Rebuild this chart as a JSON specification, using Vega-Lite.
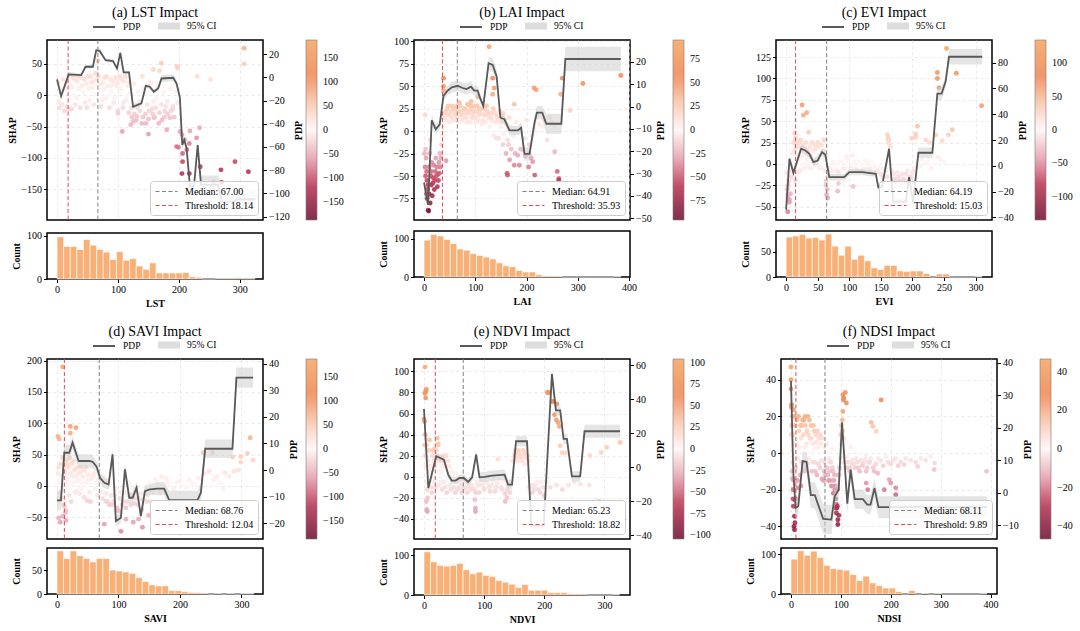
{
"$schema":"https://vega.github.io/schema/vega-lite/v6.json",
"padding":{"left":7,"top":5,"right":5,"bottom":5},
"spacing":14,
"datasets":{
"scatter_lst":[{"value":2,"shap":20},{"value":3,"shap":-10},{"value":4,"shap":-20},{"value":6,"shap":5},{"value":8,"shap":-15},{"value":10,"shap":25},{"value":12,"shap":-25},{"value":14,"shap":10},{"value":16,"shap":-18},{"value":18,"shap":30},{"value":20,"shap":-5},{"value":22,"shap":15},{"value":24,"shap":-22},{"value":26,"shap":28},{"value":28,"shap":0},{"value":30,"shap":-15},{"value":33,"shap":22},{"value":36,"shap":10},{"value":38,"shap":-20},{"value":40,"shap":28},{"value":43,"shap":5},{"value":46,"shap":-12},{"value":48,"shap":18},{"value":50,"shap":30},{"value":53,"shap":-8},{"value":56,"shap":20},{"value":58,"shap":12},{"value":60,"shap":-15},{"value":63,"shap":35},{"value":65,"shap":25},{"value":67,"shap":55},{"value":70,"shap":8},{"value":72,"shap":-18},{"value":75,"shap":20},{"value":78,"shap":28},{"value":80,"shap":-5},{"value":83,"shap":15},{"value":86,"shap":-20},{"value":88,"shap":25},{"value":90,"shap":5},{"value":93,"shap":-12},{"value":96,"shap":28},{"value":98,"shap":15},{"value":100,"shap":-25},{"value":103,"shap":30},{"value":105,"shap":10},{"value":108,"shap":-20},{"value":110,"shap":22},{"value":113,"shap":-8},{"value":116,"shap":15},{"value":118,"shap":-28},{"value":120,"shap":5},{"value":123,"shap":-35},{"value":126,"shap":18},{"value":128,"shap":-15},{"value":130,"shap":-40},{"value":133,"shap":5},{"value":136,"shap":-25},{"value":139,"shap":-45},{"value":142,"shap":10},{"value":145,"shap":-30},{"value":148,"shap":-15},{"value":150,"shap":-38},{"value":153,"shap":20},{"value":156,"shap":-22},{"value":158,"shap":-10},{"value":160,"shap":-35},{"value":163,"shap":-5},{"value":166,"shap":15},{"value":168,"shap":-28},{"value":172,"shap":-40},{"value":175,"shap":5},{"value":178,"shap":-18},{"value":182,"shap":-30},{"value":186,"shap":10},{"value":190,"shap":-22},{"value":195,"shap":5},{"value":198,"shap":-12},{"value":158,"shap":41},{"value":171,"shap":51},{"value":168,"shap":39},{"value":197,"shap":46},{"value":198,"shap":43},{"value":140,"shap":30},{"value":230,"shap":30},{"value":252,"shap":25},{"value":307,"shap":75},{"value":307,"shap":50},{"value":100,"shap":-29},{"value":121,"shap":-47},{"value":150,"shap":-62},{"value":107,"shap":-58},{"value":180,"shap":-55},{"value":159,"shap":-36},{"value":177,"shap":-26},{"value":190,"shap":-18},{"value":185,"shap":-36},{"value":202,"shap":-58},{"value":205,"shap":-63},{"value":209,"shap":-71},{"value":218,"shap":-57},{"value":217,"shap":-77},{"value":196,"shap":-82},{"value":199,"shap":-83},{"value":213,"shap":-87},{"value":206,"shap":-93},{"value":206,"shap":-106},{"value":205,"shap":-125},{"value":217,"shap":-125},{"value":229,"shap":-68},{"value":234,"shap":-52},{"value":235,"shap":-114},{"value":257,"shap":-140},{"value":270,"shap":-139},{"value":269,"shap":-119},{"value":292,"shap":-106},{"value":314,"shap":-122},{"value":125,"shap":-42},{"value":131,"shap":-34},{"value":5,"shap":10},{"value":9,"shap":0},{"value":15,"shap":20},{"value":19,"shap":-22},{"value":25,"shap":12},{"value":29,"shap":25},{"value":32,"shap":-5},{"value":35,"shap":30},{"value":41,"shap":15},{"value":45,"shap":25},{"value":49,"shap":-20},{"value":52,"shap":10},{"value":55,"shap":30},{"value":59,"shap":22},{"value":62,"shap":0},{"value":68,"shap":30},{"value":71,"shap":18},{"value":74,"shap":-8},{"value":77,"shap":10},{"value":81,"shap":30},{"value":85,"shap":0},{"value":89,"shap":15},{"value":92,"shap":22},{"value":95,"shap":-5},{"value":99,"shap":20},{"value":102,"shap":5},{"value":106,"shap":25},{"value":109,"shap":-12},{"value":112,"shap":30},{"value":115,"shap":0},{"value":119,"shap":20},{"value":122,"shap":-20},{"value":127,"shap":-30},{"value":132,"shap":-20},{"value":135,"shap":-10},{"value":141,"shap":-35},{"value":146,"shap":-45},{"value":151,"shap":-25},{"value":157,"shap":-30},{"value":162,"shap":-20},{"value":167,"shap":-45},{"value":171,"shap":-15},{"value":176,"shap":-35},{"value":181,"shap":-10},{"value":187,"shap":-25},{"value":192,"shap":-35}],
"pdp_lst":[{"value":0,"pdp":-1.7,"lo":-3.7,"hi":0.3},{"value":6.6,"pdp":-16.1,"lo":-18.6,"hi":-13.6},{"value":19.2,"pdp":2.6,"lo":0.6,"hi":4.6},{"value":39.6,"pdp":2.0,"lo":0.5,"hi":3.5},{"value":46.7,"pdp":9.2,"lo":7.7,"hi":10.7},{"value":58.8,"pdp":9.2,"lo":7.7,"hi":10.7},{"value":64.3,"pdp":23.5,"lo":21.5,"hi":25.5},{"value":69.8,"pdp":23.0,"lo":21,"hi":25},{"value":79.7,"pdp":14.9,"lo":13.4,"hi":16.4},{"value":91.8,"pdp":14.1,"lo":12.6,"hi":15.6},{"value":98.4,"pdp":7.8,"lo":6.3,"hi":9.3},{"value":103.8,"pdp":21.2,"lo":19.2,"hi":23.2},{"value":109.3,"pdp":4.3,"lo":2.8,"hi":5.8},{"value":118.1,"pdp":4.3,"lo":2.8,"hi":5.8},{"value":124.7,"pdp":-25.3,"lo":-27.3,"hi":-23.3},{"value":138.5,"pdp":-22.4,"lo":-24.4,"hi":-20.4},{"value":145.6,"pdp":-7.2,"lo":-9.2,"hi":-5.2},{"value":152.2,"pdp":-8.0,"lo":-10,"hi":-6},{"value":158.8,"pdp":-12.3,"lo":-14.3,"hi":-10.3},{"value":165.9,"pdp":-9.5,"lo":-11.5,"hi":-7.5},{"value":171.4,"pdp":-0.9,"lo":-3.9,"hi":2.1},{"value":190.7,"pdp":-0.3,"lo":-3.3,"hi":2.7},{"value":196.2,"pdp":-5.2,"lo":-8.2,"hi":-2.2},{"value":201.6,"pdp":-17.5,"lo":-19.5,"hi":-15.5},{"value":205.5,"pdp":-58.3,"lo":-61.3,"hi":-55.3},{"value":208.8,"pdp":-54,"lo":-57,"hi":-51},{"value":212.6,"pdp":-61.1,"lo":-64.1,"hi":-58.1},{"value":218.1,"pdp":-94.2,"lo":-97.2,"hi":-91.2},{"value":224.7,"pdp":-94.2,"lo":-97.2,"hi":-91.2},{"value":230.8,"pdp":-58.3,"lo":-61.3,"hi":-55.3},{"value":236.3,"pdp":-92.7,"lo":-100.7,"hi":-84.7},{"value":264.8,"pdp":-92.7,"lo":-100.7,"hi":-84.7},{"value":270.3,"pdp":-107.1,"lo":-115.1,"hi":-99.1},{"value":289.6,"pdp":-107.1,"lo":-115.1,"hi":-99.1},{"value":295.1,"pdp":-105.1,"lo":-113.1,"hi":-97.1},{"value":325.3,"pdp":-105.1,"lo":-113.1,"hi":-97.1}],
"hist_lst":[{"bin_start":0,"bin_end":10.83,"count":97},{"bin_start":10.83,"bin_end":21.67,"count":75},{"bin_start":21.67,"bin_end":32.5,"count":75},{"bin_start":32.5,"bin_end":43.33,"count":68},{"bin_start":43.33,"bin_end":54.17,"count":91},{"bin_start":54.17,"bin_end":65,"count":78},{"bin_start":65,"bin_end":75.83,"count":68},{"bin_start":75.83,"bin_end":86.67,"count":62},{"bin_start":86.67,"bin_end":97.5,"count":45},{"bin_start":97.5,"bin_end":108.33,"count":63},{"bin_start":108.33,"bin_end":119.17,"count":43},{"bin_start":119.17,"bin_end":130,"count":47},{"bin_start":130,"bin_end":140.83,"count":30},{"bin_start":140.83,"bin_end":151.67,"count":22},{"bin_start":151.67,"bin_end":162.5,"count":37},{"bin_start":162.5,"bin_end":173.33,"count":14},{"bin_start":173.33,"bin_end":184.17,"count":14},{"bin_start":184.17,"bin_end":195,"count":14},{"bin_start":195,"bin_end":205.83,"count":14},{"bin_start":205.83,"bin_end":216.67,"count":15},{"bin_start":216.67,"bin_end":227.5,"count":5},{"bin_start":227.5,"bin_end":238.33,"count":4},{"bin_start":238.33,"bin_end":249.17,"count":0},{"bin_start":249.17,"bin_end":260,"count":0},{"bin_start":260,"bin_end":270.83,"count":1},{"bin_start":270.83,"bin_end":281.67,"count":1},{"bin_start":281.67,"bin_end":292.5,"count":1},{"bin_start":292.5,"bin_end":303.33,"count":3},{"bin_start":303.33,"bin_end":314.17,"count":1},{"bin_start":314.17,"bin_end":325,"count":1}],
"scatter_lai":[{"value":2,"shap":18},{"value":3,"shap":-20},{"value":4,"shap":-30},{"value":5,"shap":-45},{"value":6,"shap":-55},{"value":7,"shap":-65},{"value":8,"shap":-88},{"value":9,"shap":-89},{"value":10,"shap":-40},{"value":11,"shap":-25},{"value":12,"shap":-10},{"value":13,"shap":-50},{"value":14,"shap":-60},{"value":15,"shap":-35},{"value":16,"shap":-72},{"value":18,"shap":-52},{"value":20,"shap":-65},{"value":22,"shap":-45},{"value":24,"shap":-50},{"value":26,"shap":-62},{"value":28,"shap":-55},{"value":30,"shap":-47},{"value":32,"shap":-40},{"value":34,"shap":-15},{"value":36,"shap":-5},{"value":38,"shap":5},{"value":40,"shap":15},{"value":42,"shap":22},{"value":45,"shap":25},{"value":48,"shap":18},{"value":50,"shap":10},{"value":52,"shap":22},{"value":55,"shap":28},{"value":58,"shap":12},{"value":60,"shap":20},{"value":62,"shap":25},{"value":65,"shap":15},{"value":68,"shap":22},{"value":70,"shap":28},{"value":72,"shap":18},{"value":75,"shap":12},{"value":78,"shap":25},{"value":80,"shap":20},{"value":83,"shap":15},{"value":85,"shap":30},{"value":88,"shap":22},{"value":90,"shap":10},{"value":93,"shap":25},{"value":95,"shap":18},{"value":98,"shap":28},{"value":100,"shap":15},{"value":103,"shap":22},{"value":106,"shap":12},{"value":108,"shap":25},{"value":110,"shap":20},{"value":113,"shap":8},{"value":116,"shap":18},{"value":118,"shap":25},{"value":120,"shap":10},{"value":123,"shap":22},{"value":126,"shap":15},{"value":128,"shap":5},{"value":130,"shap":20},{"value":133,"shap":12},{"value":136,"shap":-5},{"value":138,"shap":20},{"value":140,"shap":10},{"value":143,"shap":15},{"value":146,"shap":-8},{"value":148,"shap":22},{"value":150,"shap":5},{"value":153,"shap":18},{"value":156,"shap":-3},{"value":158,"shap":12},{"value":160,"shap":8},{"value":163,"shap":-10},{"value":166,"shap":15},{"value":170,"shap":5},{"value":175,"shap":-5},{"value":180,"shap":10},{"value":185,"shap":-2},{"value":190,"shap":5},{"value":195,"shap":-8},{"value":200,"shap":12},{"value":210,"shap":-5},{"value":215,"shap":3},{"value":225,"shap":8},{"value":235,"shap":12},{"value":245,"shap":15},{"value":255,"shap":5},{"value":38,"shap":59},{"value":38,"shap":50},{"value":38,"shap":45},{"value":69,"shap":32},{"value":87,"shap":29.5},{"value":92,"shap":33},{"value":105,"shap":38},{"value":127,"shap":94},{"value":134,"shap":59},{"value":137,"shap":48},{"value":134,"shap":41},{"value":176,"shap":30},{"value":215,"shap":48},{"value":219,"shap":46},{"value":270,"shap":59},{"value":267,"shap":41},{"value":310,"shap":53},{"value":285,"shap":23},{"value":384,"shap":62},{"value":141,"shap":-8},{"value":154,"shap":-15},{"value":160,"shap":-25},{"value":167,"shap":-32},{"value":176,"shap":-38},{"value":186,"shap":-38},{"value":162,"shap":-47},{"value":163,"shap":-49},{"value":204,"shap":-40},{"value":209,"shap":-30},{"value":212,"shap":-34},{"value":216,"shap":-49},{"value":255,"shap":-23},{"value":260,"shap":-45},{"value":263,"shap":-53},{"value":263,"shap":-55},{"value":183,"shap":-27},{"value":193,"shap":-21},{"value":206,"shap":-15},{"value":43,"shap":-33},{"value":41,"shap":20},{"value":44,"shap":12},{"value":47,"shap":28},{"value":51,"shap":18},{"value":54,"shap":15},{"value":57,"shap":25},{"value":61,"shap":18},{"value":64,"shap":28},{"value":67,"shap":10},{"value":71,"shap":22},{"value":74,"shap":20},{"value":77,"shap":15},{"value":81,"shap":25},{"value":84,"shap":10},{"value":87,"shap":20},{"value":91,"shap":28},{"value":94,"shap":15},{"value":97,"shap":22},{"value":101,"shap":10},{"value":104,"shap":28},{"value":107,"shap":18},{"value":111,"shap":25},{"value":115,"shap":12},{"value":119,"shap":18},{"value":122,"shap":28},{"value":125,"shap":20},{"value":131,"shap":15},{"value":135,"shap":25},{"value":141,"shap":18},{"value":145,"shap":12},{"value":151,"shap":10},{"value":155,"shap":20},{"value":161,"shap":2},{"value":165,"shap":-15},{"value":170,"shap":-20},{"value":178,"shap":-25},{"value":188,"shap":-20},{"value":198,"shap":-28},{"value":205,"shap":-25},{"value":230,"shap":5},{"value":240,"shap":-10},{"value":250,"shap":10},{"value":1,"shap":-25},{"value":2,"shap":-40},{"value":3,"shap":-50},{"value":5,"shap":-70},{"value":6,"shap":-75},{"value":8,"shap":-60},{"value":10,"shap":-70},{"value":12,"shap":-80},{"value":14,"shap":-45},{"value":17,"shap":-58},{"value":19,"shap":-38},{"value":21,"shap":-55},{"value":23,"shap":-30},{"value":25,"shap":-40},{"value":27,"shap":-48},{"value":29,"shap":-35},{"value":31,"shap":-25},{"value":33,"shap":-30}],
"pdp_lai":[{"value":0,"pdp":-34,"lo":-37,"hi":-31},{"value":7.8,"pdp":-44,"lo":-47,"hi":-41},{"value":15,"pdp":-6.2,"lo":-9.2,"hi":-3.2},{"value":22.9,"pdp":-10.2,"lo":-12.2,"hi":-8.2},{"value":30.7,"pdp":-8,"lo":-10,"hi":-6},{"value":37.9,"pdp":4.8,"lo":2.8,"hi":6.8},{"value":45.8,"pdp":7.1,"lo":5.1,"hi":9.1},{"value":54.2,"pdp":8.6,"lo":6.1,"hi":11.1},{"value":65.4,"pdp":9.3,"lo":6.8,"hi":11.8},{"value":75.2,"pdp":8.3,"lo":5.8,"hi":10.8},{"value":83,"pdp":7.8,"lo":5.3,"hi":10.3},{"value":91.5,"pdp":8.9,"lo":6.4,"hi":11.4},{"value":98,"pdp":7.1,"lo":5.1,"hi":9.1},{"value":104.6,"pdp":7.1,"lo":5.1,"hi":9.1},{"value":109,"pdp":4.1,"lo":2.1,"hi":6.1},{"value":115.7,"pdp":0.3,"lo":-1.7,"hi":2.3},{"value":126,"pdp":19.4,"lo":16.4,"hi":22.4},{"value":134,"pdp":18.6,"lo":15.6,"hi":21.6},{"value":141.8,"pdp":13.4,"lo":10.4,"hi":16.4},{"value":149,"pdp":-5,"lo":-7.5,"hi":-2.5},{"value":156.9,"pdp":-5.7,"lo":-7.7,"hi":-3.7},{"value":166.7,"pdp":-10.7,"lo":-12.7,"hi":-8.7},{"value":183,"pdp":-10.7,"lo":-12.7,"hi":-8.7},{"value":189.5,"pdp":-9.5,"lo":-12,"hi":-7},{"value":196,"pdp":-21.2,"lo":-24.2,"hi":-18.2},{"value":205.9,"pdp":-21.2,"lo":-24.2,"hi":-18.2},{"value":215.7,"pdp":-7.2,"lo":-10.2,"hi":-4.2},{"value":220.3,"pdp":-2.7,"lo":-5.7,"hi":0.3},{"value":230.7,"pdp":-2.7,"lo":-5.7,"hi":0.3},{"value":238.6,"pdp":-7.7,"lo":-12.2,"hi":-3.2},{"value":268,"pdp":-7.7,"lo":-12.2,"hi":-3.2},{"value":275.8,"pdp":21.3,"lo":15.8,"hi":26.8},{"value":384,"pdp":21.3,"lo":15.8,"hi":26.8}],
"hist_lai":[{"bin_start":0,"bin_end":12.8,"count":96},{"bin_start":12.8,"bin_end":25.6,"count":111},{"bin_start":25.6,"bin_end":38.4,"count":107},{"bin_start":38.4,"bin_end":51.2,"count":98},{"bin_start":51.2,"bin_end":64,"count":87},{"bin_start":64,"bin_end":76.8,"count":73},{"bin_start":76.8,"bin_end":89.6,"count":70},{"bin_start":89.6,"bin_end":102.4,"count":61},{"bin_start":102.4,"bin_end":115.2,"count":56},{"bin_start":115.2,"bin_end":128,"count":52},{"bin_start":128,"bin_end":140.8,"count":47},{"bin_start":140.8,"bin_end":153.6,"count":37},{"bin_start":153.6,"bin_end":166.4,"count":29},{"bin_start":166.4,"bin_end":179.2,"count":27},{"bin_start":179.2,"bin_end":192,"count":17},{"bin_start":192,"bin_end":204.8,"count":13},{"bin_start":204.8,"bin_end":217.6,"count":13},{"bin_start":217.6,"bin_end":230.4,"count":6},{"bin_start":230.4,"bin_end":243.2,"count":3},{"bin_start":243.2,"bin_end":256,"count":3},{"bin_start":256,"bin_end":268.8,"count":2},{"bin_start":268.8,"bin_end":281.6,"count":0},{"bin_start":281.6,"bin_end":294.4,"count":0},{"bin_start":294.4,"bin_end":307.2,"count":0},{"bin_start":307.2,"bin_end":320,"count":0},{"bin_start":320,"bin_end":332.8,"count":0},{"bin_start":332.8,"bin_end":345.6,"count":0},{"bin_start":345.6,"bin_end":358.4,"count":0},{"bin_start":358.4,"bin_end":371.2,"count":0},{"bin_start":371.2,"bin_end":384,"count":1}],
"scatter_evi":[{"value":1,"shap":-10},{"value":2,"shap":-30},{"value":3,"shap":-40},{"value":4,"shap":-20},{"value":5,"shap":-45},{"value":6,"shap":5},{"value":8,"shap":-15},{"value":10,"shap":12},{"value":12,"shap":25},{"value":14,"shap":-5},{"value":16,"shap":20},{"value":18,"shap":10},{"value":20,"shap":25},{"value":22,"shap":-8},{"value":24,"shap":15},{"value":26,"shap":22},{"value":28,"shap":-5},{"value":30,"shap":18},{"value":32,"shap":12},{"value":34,"shap":-3},{"value":36,"shap":8},{"value":38,"shap":20},{"value":40,"shap":-5},{"value":43,"shap":15},{"value":46,"shap":22},{"value":48,"shap":-3},{"value":50,"shap":25},{"value":52,"shap":10},{"value":55,"shap":-5},{"value":58,"shap":15},{"value":60,"shap":28},{"value":62,"shap":-8},{"value":64,"shap":10},{"value":66,"shap":-15},{"value":70,"shap":-5},{"value":75,"shap":2},{"value":80,"shap":-8},{"value":85,"shap":3},{"value":90,"shap":-5},{"value":95,"shap":8},{"value":100,"shap":-3},{"value":105,"shap":10},{"value":110,"shap":-6},{"value":115,"shap":2},{"value":120,"shap":-8},{"value":125,"shap":4},{"value":130,"shap":-5},{"value":135,"shap":2},{"value":140,"shap":-3},{"value":145,"shap":-8},{"value":150,"shap":-12},{"value":155,"shap":-5},{"value":160,"shap":-15},{"value":165,"shap":20},{"value":168,"shap":-8},{"value":172,"shap":-18},{"value":176,"shap":-10},{"value":180,"shap":-20},{"value":184,"shap":-12},{"value":188,"shap":-22},{"value":192,"shap":-8},{"value":196,"shap":-16},{"value":200,"shap":-10},{"value":204,"shap":-5},{"value":210,"shap":-2},{"value":215,"shap":5},{"value":220,"shap":0},{"value":230,"shap":-5},{"value":240,"shap":8},{"value":250,"shap":2},{"value":25.3,"shap":69},{"value":27.4,"shap":57},{"value":32.6,"shap":60},{"value":35.8,"shap":37},{"value":13.7,"shap":36},{"value":254,"shap":135},{"value":239.5,"shap":107},{"value":239.5,"shap":100},{"value":242,"shap":89},{"value":269.5,"shap":106},{"value":309.5,"shap":68},{"value":208,"shap":44},{"value":205,"shap":35},{"value":205,"shap":31},{"value":237,"shap":34},{"value":257,"shap":34},{"value":263,"shap":40},{"value":221,"shap":28},{"value":227,"shap":25},{"value":247,"shap":27},{"value":199,"shap":30},{"value":160.5,"shap":34},{"value":161.6,"shap":30},{"value":163,"shap":24},{"value":2.6,"shap":-56},{"value":5.3,"shap":-42},{"value":2.6,"shap":-36},{"value":64,"shap":-36},{"value":65.8,"shap":-40},{"value":63,"shap":-25},{"value":83,"shap":-23},{"value":81.6,"shap":-32},{"value":106,"shap":-26.5},{"value":14.7,"shap":-19},{"value":9.5,"shap":-9},{"value":3,"shap":-25},{"value":7,"shap":-35},{"value":11,"shap":0},{"value":13,"shap":15},{"value":15,"shap":30},{"value":17,"shap":-10},{"value":19,"shap":20},{"value":21,"shap":5},{"value":23,"shap":28},{"value":25,"shap":10},{"value":27,"shap":20},{"value":29,"shap":0},{"value":31,"shap":25},{"value":33,"shap":5},{"value":35,"shap":15},{"value":37,"shap":-5},{"value":39,"shap":10},{"value":41,"shap":25},{"value":44,"shap":5},{"value":47,"shap":18},{"value":49,"shap":8},{"value":51,"shap":20},{"value":53,"shap":-5},{"value":56,"shap":22},{"value":59,"shap":5},{"value":61,"shap":15},{"value":63,"shap":-20},{"value":65,"shap":-30},{"value":67,"shap":-5},{"value":72,"shap":-8},{"value":78,"shap":0},{"value":83,"shap":-10},{"value":88,"shap":2},{"value":93,"shap":-6},{"value":98,"shap":5},{"value":103,"shap":-5},{"value":108,"shap":2},{"value":113,"shap":-8},{"value":118,"shap":0},{"value":123,"shap":-5},{"value":128,"shap":3},{"value":133,"shap":-6},{"value":138,"shap":0},{"value":143,"shap":-10},{"value":148,"shap":-5},{"value":153,"shap":-15},{"value":158,"shap":-8},{"value":162,"shap":28},{"value":170,"shap":-12},{"value":174,"shap":-22},{"value":178,"shap":-15},{"value":182,"shap":-25},{"value":186,"shap":-18},{"value":190,"shap":-12},{"value":194,"shap":-20},{"value":198,"shap":-15},{"value":202,"shap":-8},{"value":207,"shap":2},{"value":212,"shap":-3},{"value":225,"shap":4},{"value":235,"shap":0},{"value":245,"shap":5}],
"pdp_evi":[{"value":0,"pdp":-34,"lo":-37,"hi":-31},{"value":5.3,"pdp":5.4,"lo":2.4,"hi":8.4},{"value":11.6,"pdp":-5.4,"lo":-8.4,"hi":-2.4},{"value":23.7,"pdp":13.2,"lo":10.2,"hi":16.2},{"value":30.5,"pdp":11.9,"lo":8.9,"hi":14.9},{"value":36.8,"pdp":9.3,"lo":6.3,"hi":12.3},{"value":43.2,"pdp":2.8,"lo":-0.2,"hi":5.8},{"value":50,"pdp":4.1,"lo":1.1,"hi":7.1},{"value":56.8,"pdp":10.6,"lo":7.6,"hi":13.6},{"value":62.1,"pdp":8.5,"lo":5.5,"hi":11.5},{"value":68.4,"pdp":-8.8,"lo":-11.3,"hi":-6.3},{"value":92.1,"pdp":-8.8,"lo":-11.3,"hi":-6.3},{"value":100,"pdp":-4.9,"lo":-7.4,"hi":-2.4},{"value":121,"pdp":-4.9,"lo":-7.4,"hi":-2.4},{"value":142,"pdp":-6.2,"lo":-8.7,"hi":-3.7},{"value":146,"pdp":-16.6,"lo":-19.1,"hi":-14.1},{"value":151.6,"pdp":-16.6,"lo":-19.1,"hi":-14.1},{"value":163,"pdp":13.2,"lo":10.2,"hi":16.2},{"value":169.5,"pdp":-27.7,"lo":-29.7,"hi":-25.7},{"value":189.5,"pdp":-27.7,"lo":-29.7,"hi":-25.7},{"value":194.7,"pdp":-8.8,"lo":-10.8,"hi":-6.8},{"value":201,"pdp":-28.2,"lo":-30.2,"hi":-26.2},{"value":209.5,"pdp":10.1,"lo":6.1,"hi":14.1},{"value":231.6,"pdp":10.1,"lo":6.1,"hi":14.1},{"value":239.5,"pdp":56,"lo":51,"hi":61},{"value":246.3,"pdp":56,"lo":51,"hi":61},{"value":252.6,"pdp":65.5,"lo":61.5,"hi":69.5},{"value":257.9,"pdp":84.5,"lo":78.5,"hi":90.5},{"value":310.5,"pdp":84.5,"lo":78.5,"hi":90.5}],
"hist_evi":[{"bin_start":0,"bin_end":10.33,"count":79},{"bin_start":10.33,"bin_end":20.67,"count":81},{"bin_start":20.67,"bin_end":31,"count":84},{"bin_start":31,"bin_end":41.33,"count":77},{"bin_start":41.33,"bin_end":51.67,"count":78},{"bin_start":51.67,"bin_end":62,"count":73},{"bin_start":62,"bin_end":72.33,"count":85},{"bin_start":72.33,"bin_end":82.67,"count":61},{"bin_start":82.67,"bin_end":93,"count":43},{"bin_start":93,"bin_end":103.33,"count":61},{"bin_start":103.33,"bin_end":113.67,"count":35},{"bin_start":113.67,"bin_end":124,"count":43},{"bin_start":124,"bin_end":134.33,"count":32},{"bin_start":134.33,"bin_end":144.67,"count":18},{"bin_start":144.67,"bin_end":155,"count":15},{"bin_start":155,"bin_end":165.33,"count":23},{"bin_start":165.33,"bin_end":175.67,"count":23},{"bin_start":175.67,"bin_end":186,"count":12},{"bin_start":186,"bin_end":196.33,"count":11},{"bin_start":196.33,"bin_end":206.67,"count":12},{"bin_start":206.67,"bin_end":217,"count":12},{"bin_start":217,"bin_end":227.33,"count":7},{"bin_start":227.33,"bin_end":237.67,"count":0},{"bin_start":237.67,"bin_end":248,"count":6},{"bin_start":248,"bin_end":258.33,"count":6},{"bin_start":258.33,"bin_end":268.67,"count":0},{"bin_start":268.67,"bin_end":279,"count":0},{"bin_start":279,"bin_end":289.33,"count":0},{"bin_start":289.33,"bin_end":299.67,"count":0},{"bin_start":299.67,"bin_end":310,"count":1}],
"scatter_savi":[{"value":2,"shap":20},{"value":4,"shap":-10},{"value":6,"shap":35},{"value":8,"shap":15},{"value":10,"shap":-5},{"value":12,"shap":25},{"value":14,"shap":40},{"value":16,"shap":10},{"value":18,"shap":30},{"value":20,"shap":-15},{"value":22,"shap":20},{"value":24,"shap":35},{"value":26,"shap":5},{"value":28,"shap":25},{"value":30,"shap":15},{"value":32,"shap":-8},{"value":34,"shap":30},{"value":36,"shap":10},{"value":38,"shap":22},{"value":40,"shap":-5},{"value":42,"shap":15},{"value":45,"shap":25},{"value":48,"shap":5},{"value":50,"shap":18},{"value":53,"shap":-10},{"value":56,"shap":12},{"value":60,"shap":20},{"value":63,"shap":5},{"value":66,"shap":-15},{"value":70,"shap":12},{"value":74,"shap":-20},{"value":78,"shap":8},{"value":82,"shap":-25},{"value":86,"shap":5},{"value":90,"shap":-30},{"value":94,"shap":-15},{"value":98,"shap":-35},{"value":102,"shap":-20},{"value":106,"shap":-30},{"value":110,"shap":-10},{"value":114,"shap":-25},{"value":118,"shap":5},{"value":122,"shap":-15},{"value":126,"shap":-28},{"value":130,"shap":-5},{"value":134,"shap":-20},{"value":138,"shap":-38},{"value":142,"shap":-12},{"value":146,"shap":-25},{"value":150,"shap":5},{"value":155,"shap":-10},{"value":160,"shap":10},{"value":165,"shap":-5},{"value":170,"shap":15},{"value":175,"shap":-8},{"value":180,"shap":5},{"value":190,"shap":-5},{"value":200,"shap":8},{"value":210,"shap":-3},{"value":220,"shap":5},{"value":230,"shap":12},{"value":260,"shap":15},{"value":270,"shap":-5},{"value":9.2,"shap":190},{"value":21.7,"shap":95},{"value":21.7,"shap":84},{"value":30.9,"shap":93},{"value":1.6,"shap":79},{"value":3.8,"shap":75},{"value":314,"shap":77},{"value":309.7,"shap":52},{"value":298.9,"shap":47},{"value":298.9,"shap":38},{"value":286.4,"shap":46},{"value":319,"shap":41},{"value":252.8,"shap":53},{"value":237.7,"shap":53},{"value":288,"shap":23.5},{"value":273,"shap":21},{"value":247.4,"shap":23.5},{"value":2.7,"shap":-51},{"value":5.4,"shap":-58},{"value":9.2,"shap":-48.5},{"value":11.9,"shap":-32.5},{"value":13.5,"shap":-43},{"value":14.6,"shap":-55},{"value":48,"shap":-23},{"value":51.4,"shap":-24.5},{"value":76.9,"shap":-61},{"value":104,"shap":-72.5},{"value":112,"shap":-53},{"value":124,"shap":-58},{"value":132.6,"shap":-53},{"value":139,"shap":-66},{"value":149,"shap":-47},{"value":79.6,"shap":-24.5},{"value":3,"shap":30},{"value":5,"shap":5},{"value":7,"shap":-20},{"value":9,"shap":45},{"value":11,"shap":-30},{"value":13,"shap":20},{"value":15,"shap":-40},{"value":17,"shap":35},{"value":19,"shap":5},{"value":21,"shap":45},{"value":23,"shap":-25},{"value":25,"shap":15},{"value":27,"shap":40},{"value":29,"shap":-10},{"value":31,"shap":28},{"value":33,"shap":8},{"value":35,"shap":20},{"value":37,"shap":-12},{"value":39,"shap":30},{"value":41,"shap":5},{"value":44,"shap":-18},{"value":47,"shap":30},{"value":51,"shap":10},{"value":55,"shap":-25},{"value":58,"shap":15},{"value":62,"shap":-5},{"value":67,"shap":10},{"value":72,"shap":-10},{"value":76,"shap":15},{"value":80,"shap":-12},{"value":85,"shap":-30},{"value":88,"shap":-15},{"value":92,"shap":-25},{"value":96,"shap":-5},{"value":100,"shap":-40},{"value":104,"shap":-10},{"value":108,"shap":-25},{"value":112,"shap":-35},{"value":116,"shap":-15},{"value":120,"shap":-30},{"value":124,"shap":-5},{"value":128,"shap":-20},{"value":132,"shap":-30},{"value":136,"shap":-12},{"value":140,"shap":-22},{"value":144,"shap":-5},{"value":148,"shap":-15},{"value":152,"shap":-25},{"value":158,"shap":-5},{"value":163,"shap":5},{"value":168,"shap":-10},{"value":172,"shap":0},{"value":178,"shap":12},{"value":185,"shap":0},{"value":195,"shap":5},{"value":205,"shap":0},{"value":215,"shap":10},{"value":225,"shap":2},{"value":240,"shap":20},{"value":255,"shap":10},{"value":265,"shap":5},{"value":280,"shap":15},{"value":295,"shap":25}],
"pdp_savi":[{"value":0,"pdp":-11.4,"lo":-14.9,"hi":-7.9},{"value":6.5,"pdp":-11.4,"lo":-14.9,"hi":-7.9},{"value":11.9,"pdp":6.5,"lo":3.5,"hi":9.5},{"value":20,"pdp":6.5,"lo":3.5,"hi":9.5},{"value":25.4,"pdp":10.3,"lo":7.8,"hi":12.8},{"value":35.2,"pdp":3.4,"lo":0.9,"hi":5.9},{"value":52.5,"pdp":3.4,"lo":0.9,"hi":5.9},{"value":58,"pdp":3.1,"lo":0.6,"hi":5.6},{"value":64.4,"pdp":1.3,"lo":-0.7,"hi":3.3},{"value":70,"pdp":-2.9,"lo":-4.9,"hi":-0.9},{"value":77,"pdp":-4.8,"lo":-6.8,"hi":-2.8},{"value":84,"pdp":-5.4,"lo":-7.4,"hi":-3.4},{"value":90.4,"pdp":5.9,"lo":3.4,"hi":8.4},{"value":95.8,"pdp":-19.2,"lo":-21.2,"hi":-17.2},{"value":104,"pdp":-17.9,"lo":-19.9,"hi":-15.9},{"value":110.5,"pdp":0.3,"lo":-1.7,"hi":2.3},{"value":117.5,"pdp":-10.4,"lo":-12.4,"hi":-8.4},{"value":123,"pdp":-10.4,"lo":-12.4,"hi":-8.4},{"value":129.4,"pdp":-6.6,"lo":-8.6,"hi":-4.6},{"value":136.4,"pdp":-17.3,"lo":-19.3,"hi":-15.3},{"value":143,"pdp":-7.9,"lo":-9.9,"hi":-5.9},{"value":151,"pdp":-7.3,"lo":-9.3,"hi":-5.3},{"value":163.5,"pdp":-7,"lo":-9.5,"hi":-4.5},{"value":174.3,"pdp":-7,"lo":-9.5,"hi":-4.5},{"value":182.5,"pdp":-11.3,"lo":-14.8,"hi":-7.8},{"value":228.5,"pdp":-11.3,"lo":-14.8,"hi":-7.8},{"value":234,"pdp":-8.5,"lo":-12,"hi":-5},{"value":241,"pdp":8,"lo":4.5,"hi":11.5},{"value":285.3,"pdp":8,"lo":4.5,"hi":11.5},{"value":291.8,"pdp":34.7,"lo":30.9,"hi":38.5},{"value":319,"pdp":34.7,"lo":30.9,"hi":38.5}],
"hist_savi":[{"bin_start":0,"bin_end":10.67,"count":90},{"bin_start":10.67,"bin_end":21.33,"count":74},{"bin_start":21.33,"bin_end":32,"count":90},{"bin_start":32,"bin_end":42.67,"count":80},{"bin_start":42.67,"bin_end":53.33,"count":74},{"bin_start":53.33,"bin_end":64,"count":67},{"bin_start":64,"bin_end":74.67,"count":74},{"bin_start":74.67,"bin_end":85.33,"count":74},{"bin_start":85.33,"bin_end":96,"count":50},{"bin_start":96,"bin_end":106.67,"count":48},{"bin_start":106.67,"bin_end":117.33,"count":46},{"bin_start":117.33,"bin_end":128,"count":43},{"bin_start":128,"bin_end":138.67,"count":34},{"bin_start":138.67,"bin_end":149.33,"count":26},{"bin_start":149.33,"bin_end":160,"count":19},{"bin_start":160,"bin_end":170.67,"count":17},{"bin_start":170.67,"bin_end":181.33,"count":17},{"bin_start":181.33,"bin_end":192,"count":7},{"bin_start":192,"bin_end":202.67,"count":7},{"bin_start":202.67,"bin_end":213.33,"count":5},{"bin_start":213.33,"bin_end":224,"count":3},{"bin_start":224,"bin_end":234.67,"count":3},{"bin_start":234.67,"bin_end":245.33,"count":1},{"bin_start":245.33,"bin_end":256,"count":0},{"bin_start":256,"bin_end":266.67,"count":1},{"bin_start":266.67,"bin_end":277.33,"count":0},{"bin_start":277.33,"bin_end":288,"count":1},{"bin_start":288,"bin_end":298.67,"count":0},{"bin_start":298.67,"bin_end":309.33,"count":1},{"bin_start":309.33,"bin_end":320,"count":1}],
"scatter_ndvi":[{"value":1,"shap":30},{"value":2,"shap":20},{"value":3,"shap":10},{"value":4,"shap":-5},{"value":5,"shap":-12},{"value":6,"shap":15},{"value":8,"shap":25},{"value":10,"shap":5},{"value":12,"shap":-10},{"value":14,"shap":20},{"value":16,"shap":-5},{"value":18,"shap":10},{"value":20,"shap":25},{"value":22,"shap":15},{"value":24,"shap":-8},{"value":26,"shap":18},{"value":28,"shap":5},{"value":30,"shap":-12},{"value":32,"shap":20},{"value":34,"shap":-5},{"value":36,"shap":10},{"value":38,"shap":-15},{"value":40,"shap":15},{"value":43,"shap":-8},{"value":46,"shap":5},{"value":50,"shap":-10},{"value":53,"shap":3},{"value":56,"shap":-12},{"value":60,"shap":-5},{"value":63,"shap":-15},{"value":66,"shap":2},{"value":70,"shap":-10},{"value":74,"shap":-6},{"value":78,"shap":-12},{"value":82,"shap":-2},{"value":86,"shap":-15},{"value":90,"shap":-8},{"value":95,"shap":-3},{"value":100,"shap":-12},{"value":105,"shap":-6},{"value":110,"shap":-14},{"value":115,"shap":-4},{"value":120,"shap":-10},{"value":125,"shap":-2},{"value":130,"shap":-12},{"value":135,"shap":-16},{"value":140,"shap":-8},{"value":145,"shap":-5},{"value":150,"shap":20},{"value":152,"shap":25},{"value":155,"shap":15},{"value":158,"shap":22},{"value":162,"shap":18},{"value":165,"shap":25},{"value":168,"shap":12},{"value":172,"shap":20},{"value":175,"shap":-10},{"value":180,"shap":-15},{"value":185,"shap":-8},{"value":190,"shap":-12},{"value":195,"shap":-5},{"value":200,"shap":-18},{"value":210,"shap":-10},{"value":240,"shap":-8},{"value":250,"shap":-5},{"value":260,"shap":-7},{"value":275,"shap":-8},{"value":1.7,"shap":104},{"value":2.8,"shap":81},{"value":1.7,"shap":79},{"value":3.9,"shap":83},{"value":2.8,"shap":74.6},{"value":0,"shap":54.7},{"value":1,"shap":52.5},{"value":22,"shap":36.7},{"value":23.8,"shap":31.3},{"value":16.6,"shap":26.2},{"value":205,"shap":80},{"value":208,"shap":80},{"value":212.7,"shap":71.4},{"value":215.5,"shap":71.4},{"value":221,"shap":69},{"value":217,"shap":58.8},{"value":220,"shap":54},{"value":222.7,"shap":51.5},{"value":225,"shap":47.7},{"value":226.5,"shap":29.4},{"value":229.3,"shap":23},{"value":234.8,"shap":22.4},{"value":276,"shap":19.9},{"value":294.5,"shap":23},{"value":304,"shap":27.8},{"value":326,"shap":32.6},{"value":3.9,"shap":-23.4},{"value":5.5,"shap":-33},{"value":4.5,"shap":-31},{"value":84.5,"shap":-21.8},{"value":85.6,"shap":-29.7},{"value":85.6,"shap":-33},{"value":135,"shap":-23.4},{"value":138,"shap":-20},{"value":291,"shap":-23.4},{"value":123,"shap":16.7},{"value":2,"shap":40},{"value":4,"shap":30},{"value":6,"shap":-20},{"value":9,"shap":35},{"value":11,"shap":10},{"value":13,"shap":-15},{"value":15,"shap":25},{"value":17,"shap":15},{"value":19,"shap":-10},{"value":21,"shap":20},{"value":23,"shap":30},{"value":25,"shap":5},{"value":27,"shap":15},{"value":29,"shap":-5},{"value":31,"shap":10},{"value":33,"shap":15},{"value":35,"shap":-10},{"value":37,"shap":20},{"value":39,"shap":0},{"value":42,"shap":10},{"value":45,"shap":-12},{"value":48,"shap":0},{"value":52,"shap":-15},{"value":55,"shap":-5},{"value":58,"shap":-10},{"value":62,"shap":-8},{"value":65,"shap":-12},{"value":68,"shap":-5},{"value":72,"shap":-15},{"value":76,"shap":-10},{"value":80,"shap":-8},{"value":84,"shap":-12},{"value":88,"shap":-5},{"value":92,"shap":-15},{"value":97,"shap":-8},{"value":102,"shap":-5},{"value":108,"shap":-10},{"value":112,"shap":-8},{"value":118,"shap":-14},{"value":122,"shap":-6},{"value":128,"shap":-10},{"value":132,"shap":-4},{"value":138,"shap":-12},{"value":143,"shap":-15},{"value":148,"shap":15},{"value":151,"shap":22},{"value":154,"shap":18},{"value":157,"shap":25},{"value":160,"shap":20},{"value":163,"shap":15},{"value":167,"shap":22},{"value":170,"shap":18},{"value":174,"shap":15},{"value":178,"shap":-8},{"value":183,"shap":-12},{"value":188,"shap":-5},{"value":193,"shap":-15},{"value":198,"shap":-10},{"value":205,"shap":-5},{"value":220,"shap":-8},{"value":230,"shap":-12}],
"pdp_ndvi":[{"value":0,"pdp":34.3,"lo":31.3,"hi":37.3},{"value":7.2,"pdp":-12.2,"lo":-15.2,"hi":-9.2},{"value":20.4,"pdp":6.5,"lo":4.5,"hi":8.5},{"value":33.1,"pdp":4.5,"lo":2.5,"hi":6.5},{"value":40.3,"pdp":-4.3,"lo":-6.3,"hi":-2.3},{"value":45.9,"pdp":-7.8,"lo":-9.8,"hi":-5.8},{"value":52.5,"pdp":-7.8,"lo":-9.8,"hi":-5.8},{"value":59.1,"pdp":-6.3,"lo":-8.3,"hi":-4.3},{"value":66.3,"pdp":-6.3,"lo":-8.3,"hi":-4.3},{"value":73.5,"pdp":-8.6,"lo":-10.6,"hi":-6.6},{"value":80.1,"pdp":-5.9,"lo":-7.9,"hi":-3.9},{"value":86.7,"pdp":7.5,"lo":4.5,"hi":10.5},{"value":92.3,"pdp":-5.9,"lo":-8.9,"hi":-2.9},{"value":101,"pdp":-5.7,"lo":-8.7,"hi":-2.7},{"value":113,"pdp":-4.9,"lo":-7.9,"hi":-1.9},{"value":134,"pdp":-4.3,"lo":-7.3,"hi":-1.3},{"value":139.8,"pdp":-10.2,"lo":-13.2,"hi":-7.2},{"value":146.4,"pdp":-10.2,"lo":-13.2,"hi":-7.2},{"value":153,"pdp":15.3,"lo":12.3,"hi":18.3},{"value":171.3,"pdp":15.3,"lo":12.3,"hi":18.3},{"value":178.5,"pdp":-34.3,"lo":-37.3,"hi":-31.3},{"value":199,"pdp":-34.3,"lo":-37.3,"hi":-31.3},{"value":212.7,"pdp":54.9,"lo":52.9,"hi":56.9},{"value":219.3,"pdp":33.5,"lo":30.5,"hi":36.5},{"value":226.5,"pdp":33.5,"lo":30.5,"hi":36.5},{"value":232,"pdp":16.7,"lo":13.7,"hi":19.7},{"value":237.6,"pdp":16.7,"lo":13.7,"hi":19.7},{"value":245.9,"pdp":-5.3,"lo":-8.3,"hi":-2.3},{"value":259.7,"pdp":-5.3,"lo":-8.3,"hi":-2.3},{"value":266.9,"pdp":21.2,"lo":17.4,"hi":25},{"value":326,"pdp":21.2,"lo":17.4,"hi":25}],
"hist_ndvi":[{"bin_start":0,"bin_end":10.83,"count":108},{"bin_start":10.83,"bin_end":21.67,"count":83},{"bin_start":21.67,"bin_end":32.5,"count":74},{"bin_start":32.5,"bin_end":43.33,"count":72},{"bin_start":43.33,"bin_end":54.17,"count":74},{"bin_start":54.17,"bin_end":65,"count":79},{"bin_start":65,"bin_end":75.83,"count":63},{"bin_start":75.83,"bin_end":86.67,"count":53},{"bin_start":86.67,"bin_end":97.5,"count":57},{"bin_start":97.5,"bin_end":108.33,"count":49},{"bin_start":108.33,"bin_end":119.17,"count":46},{"bin_start":119.17,"bin_end":130,"count":36},{"bin_start":130,"bin_end":140.83,"count":32},{"bin_start":140.83,"bin_end":151.67,"count":27},{"bin_start":151.67,"bin_end":162.5,"count":19},{"bin_start":162.5,"bin_end":173.33,"count":26},{"bin_start":173.33,"bin_end":184.17,"count":12},{"bin_start":184.17,"bin_end":195,"count":12},{"bin_start":195,"bin_end":205.83,"count":12},{"bin_start":205.83,"bin_end":216.67,"count":6},{"bin_start":216.67,"bin_end":227.5,"count":6},{"bin_start":227.5,"bin_end":238.33,"count":6},{"bin_start":238.33,"bin_end":249.17,"count":3},{"bin_start":249.17,"bin_end":260,"count":3},{"bin_start":260,"bin_end":270.83,"count":1},{"bin_start":270.83,"bin_end":281.67,"count":0},{"bin_start":281.67,"bin_end":292.5,"count":0},{"bin_start":292.5,"bin_end":303.33,"count":0},{"bin_start":303.33,"bin_end":314.17,"count":0},{"bin_start":314.17,"bin_end":325,"count":1}],
"scatter_ndsi":[{"value":0,"shap":35},{"value":1,"shap":10},{"value":2,"shap":-10},{"value":3,"shap":20},{"value":4,"shap":-25},{"value":5,"shap":5},{"value":6,"shap":-15},{"value":8,"shap":15},{"value":10,"shap":-8},{"value":12,"shap":18},{"value":14,"shap":-3},{"value":16,"shap":12},{"value":18,"shap":-12},{"value":20,"shap":8},{"value":22,"shap":15},{"value":24,"shap":-5},{"value":26,"shap":18},{"value":28,"shap":3},{"value":30,"shap":-8},{"value":32,"shap":12},{"value":34,"shap":20},{"value":36,"shap":-3},{"value":38,"shap":8},{"value":40,"shap":15},{"value":42,"shap":-10},{"value":44,"shap":5},{"value":46,"shap":12},{"value":48,"shap":-5},{"value":50,"shap":10},{"value":52,"shap":-12},{"value":54,"shap":3},{"value":56,"shap":8},{"value":58,"shap":-8},{"value":60,"shap":5},{"value":62,"shap":-14},{"value":64,"shap":0},{"value":66,"shap":-10},{"value":68,"shap":3},{"value":70,"shap":-8},{"value":72,"shap":5},{"value":74,"shap":-12},{"value":76,"shap":-3},{"value":78,"shap":-15},{"value":80,"shap":-5},{"value":82,"shap":2},{"value":84,"shap":-10},{"value":86,"shap":-15},{"value":88,"shap":-20},{"value":90,"shap":-25},{"value":92,"shap":-30},{"value":95,"shap":-12},{"value":98,"shap":-3},{"value":100,"shap":5},{"value":103,"shap":18},{"value":106,"shap":8},{"value":108,"shap":-5},{"value":112,"shap":-2},{"value":116,"shap":-8},{"value":120,"shap":3},{"value":125,"shap":-6},{"value":130,"shap":-3},{"value":135,"shap":-8},{"value":140,"shap":-4},{"value":145,"shap":-6},{"value":150,"shap":-2},{"value":155,"shap":-5},{"value":160,"shap":-3},{"value":170,"shap":-6},{"value":180,"shap":-4},{"value":190,"shap":-2},{"value":200,"shap":-6},{"value":210,"shap":-3},{"value":220,"shap":-5},{"value":240,"shap":-4},{"value":260,"shap":-3},{"value":280,"shap":-2},{"value":0,"shap":46.9},{"value":0,"shap":40},{"value":1.3,"shap":26.4},{"value":4.7,"shap":23.6},{"value":109,"shap":33},{"value":104,"shap":31.8},{"value":106,"shap":30},{"value":111,"shap":27.3},{"value":105,"shap":29},{"value":180.7,"shap":29},{"value":160.8,"shap":16.7},{"value":164,"shap":14.5},{"value":170.8,"shap":11.8},{"value":104,"shap":22.7},{"value":28,"shap":20},{"value":25,"shap":18},{"value":4.7,"shap":-20},{"value":6.6,"shap":-25.5},{"value":5,"shap":-29},{"value":7,"shap":-34.5},{"value":8,"shap":-38},{"value":7,"shap":-41.8},{"value":6,"shap":-40},{"value":3,"shap":-14},{"value":93,"shap":-29},{"value":91,"shap":-32.7},{"value":94,"shap":-36.4},{"value":94,"shap":-39},{"value":90,"shap":-30},{"value":96,"shap":-34},{"value":150.8,"shap":-10},{"value":167,"shap":-10},{"value":150.8,"shap":-16.4},{"value":154,"shap":-20},{"value":187,"shap":-20},{"value":210,"shap":-19},{"value":210,"shap":-22.7},{"value":174,"shap":-11},{"value":197,"shap":-14.5},{"value":200,"shap":-16.4},{"value":227,"shap":-6.4},{"value":254,"shap":-7.3},{"value":287,"shap":-9},{"value":288,"shap":-5.5},{"value":392,"shap":-10},{"value":14.6,"shap":-19},{"value":20,"shap":-18},{"value":1,"shap":25},{"value":2,"shap":15},{"value":3,"shap":-5},{"value":4,"shap":10},{"value":5,"shap":-20},{"value":6,"shap":20},{"value":7,"shap":0},{"value":9,"shap":-25},{"value":11,"shap":5},{"value":13,"shap":-15},{"value":15,"shap":20},{"value":17,"shap":3},{"value":19,"shap":15},{"value":21,"shap":-5},{"value":23,"shap":18},{"value":25,"shap":10},{"value":27,"shap":-10},{"value":29,"shap":15},{"value":31,"shap":5},{"value":33,"shap":-6},{"value":35,"shap":10},{"value":37,"shap":18},{"value":39,"shap":0},{"value":41,"shap":8},{"value":43,"shap":-5},{"value":45,"shap":15},{"value":47,"shap":2},{"value":49,"shap":-10},{"value":51,"shap":6},{"value":53,"shap":12},{"value":55,"shap":-6},{"value":57,"shap":0},{"value":59,"shap":10},{"value":61,"shap":-4},{"value":63,"shap":8},{"value":65,"shap":-15},{"value":67,"shap":-5},{"value":69,"shap":-12},{"value":71,"shap":0},{"value":73,"shap":-8},{"value":75,"shap":-15},{"value":77,"shap":-10},{"value":79,"shap":-5},{"value":81,"shap":-18},{"value":83,"shap":-8},{"value":85,"shap":-22},{"value":87,"shap":-12},{"value":89,"shap":-18},{"value":91,"shap":-28},{"value":93,"shap":-20},{"value":97,"shap":-8},{"value":99,"shap":10},{"value":101,"shap":15},{"value":104,"shap":12},{"value":107,"shap":-2},{"value":110,"shap":-8},{"value":114,"shap":-5},{"value":118,"shap":-10},{"value":122,"shap":-4},{"value":128,"shap":-8},{"value":133,"shap":-5},{"value":138,"shap":-10},{"value":143,"shap":-7},{"value":148,"shap":-4},{"value":153,"shap":-8},{"value":158,"shap":-5},{"value":165,"shap":-8},{"value":175,"shap":-3},{"value":185,"shap":-7},{"value":195,"shap":-5},{"value":205,"shap":-4},{"value":215,"shap":-7},{"value":230,"shap":-3},{"value":250,"shap":-5},{"value":270,"shap":-4}],
"pdp_ndsi":[{"value":0,"pdp":34.4,"lo":32.4,"hi":36.4},{"value":4.7,"pdp":6.1,"lo":3.1,"hi":9.1},{"value":9.3,"pdp":-4.7,"lo":-7.7,"hi":-1.7},{"value":14.6,"pdp":-4.2,"lo":-7.2,"hi":-1.2},{"value":23.3,"pdp":9.7,"lo":6.7,"hi":12.7},{"value":31.2,"pdp":9.5,"lo":6.5,"hi":12.5},{"value":39.9,"pdp":-0.8,"lo":-4.8,"hi":3.2},{"value":47.8,"pdp":-0.8,"lo":-4.8,"hi":3.2},{"value":64.5,"pdp":-8.1,"lo":-12.6,"hi":-3.6},{"value":81,"pdp":-8.3,"lo":-12.8,"hi":-3.8},{"value":87.7,"pdp":-1.1,"lo":-4.1,"hi":1.9},{"value":95.7,"pdp":0.9,"lo":-2.1,"hi":3.9},{"value":102.3,"pdp":21.7,"lo":19.2,"hi":24.2},{"value":112.9,"pdp":-3.4,"lo":-6.4,"hi":-0.4},{"value":119.6,"pdp":7.1,"lo":4.1,"hi":10.1},{"value":127.6,"pdp":-2,"lo":-5,"hi":1},{"value":144.2,"pdp":-2,"lo":-5,"hi":1},{"value":152.8,"pdp":-3.7,"lo":-6.7,"hi":-0.7},{"value":159.5,"pdp":-3.7,"lo":-6.7,"hi":-0.7},{"value":167.4,"pdp":1.4,"lo":-1.6,"hi":4.4},{"value":175.4,"pdp":-4.5,"lo":-7.9,"hi":-1.1},{"value":393.4,"pdp":-4.5,"lo":-7.9,"hi":-1.1}],
"hist_ndsi":[{"bin_start":0,"bin_end":13.1,"count":88},{"bin_start":13.1,"bin_end":26.2,"count":109},{"bin_start":26.2,"bin_end":39.3,"count":98},{"bin_start":39.3,"bin_end":52.4,"count":108},{"bin_start":52.4,"bin_end":65.5,"count":92},{"bin_start":65.5,"bin_end":78.6,"count":72},{"bin_start":78.6,"bin_end":91.7,"count":64},{"bin_start":91.7,"bin_end":104.8,"count":62},{"bin_start":104.8,"bin_end":117.9,"count":60},{"bin_start":117.9,"bin_end":131,"count":49},{"bin_start":131,"bin_end":144.1,"count":34},{"bin_start":144.1,"bin_end":157.2,"count":45},{"bin_start":157.2,"bin_end":170.3,"count":28},{"bin_start":170.3,"bin_end":183.4,"count":21},{"bin_start":183.4,"bin_end":196.5,"count":15},{"bin_start":196.5,"bin_end":209.6,"count":15},{"bin_start":209.6,"bin_end":222.7,"count":6},{"bin_start":222.7,"bin_end":235.8,"count":0},{"bin_start":235.8,"bin_end":248.9,"count":9},{"bin_start":248.9,"bin_end":262,"count":0},{"bin_start":262,"bin_end":275.1,"count":2},{"bin_start":275.1,"bin_end":288.2,"count":0},{"bin_start":288.2,"bin_end":301.3,"count":2},{"bin_start":301.3,"bin_end":314.4,"count":0},{"bin_start":314.4,"bin_end":327.5,"count":0},{"bin_start":327.5,"bin_end":340.6,"count":0},{"bin_start":340.6,"bin_end":353.7,"count":0},{"bin_start":353.7,"bin_end":366.8,"count":0},{"bin_start":366.8,"bin_end":379.9,"count":0},{"bin_start":379.9,"bin_end":393,"count":1}]
},
"vconcat":[
{"hconcat":[
{"spacing":6,"vconcat":[
{"width":216,"height":180,"title":{"text":"(a) LST Impact","frame":"group","offset":-5},
"layer":[
{"layer":[
{"data":{"name":"scatter_lst"},"mark":{"type":"circle","size":24,"opacity":0.85},
"encoding":{
"x":{"field":"value","type":"quantitative","scale":{"domain":[-16.5,338],"nice":false,"zero":false},"axis":{"labels":false,"ticks":false,"title":null,"grid":true,"values":[0,100,200,300]}},
"y":{"field":"shap","type":"quantitative","title":"SHAP","scale":{"domain":[-199,88],"nice":false,"zero":false},"axis":{"values":[-150,-100,-50,0,50],"grid":true,"minExtent":23,"titlePadding":3}},
"fill":{"field":"shap","type":"quantitative","scale":{"domain":[-188,-112.8,-56.4,0,56.4,112.8,188],"range":["#6d0b2e","#bb3152","#e6a3b3","#fdf7f7","#f8c6a9","#ef8453","#f6a461"]},"legend":{"orient":"none","legendX":259,"legendY":0,"direction":"vertical","gradientLength":180,"gradientThickness":11,"title":null,"values":[-150,-100,-50,0,50,100,150],"labelOverlap":false,"gradientStrokeColor":"#666","gradientStrokeWidth":0.6,"padding":0,"labelOffset":6}}}},
{"data":{"values":[{"value":67.0,"label":"Median: 67.00"},{"value":18.14,"label":"Threshold: 18.14"}]},"mark":{"type":"rule","strokeDash":[4,2.5],"strokeWidth":1},
"encoding":{"x":{"field":"value","type":"quantitative","scale":{"domain":[-16.5,338],"nice":false,"zero":false}},
"stroke":{"field":"label","type":"nominal","scale":{"domain":["Median: 67.00","Threshold: 18.14"],"range":["#808080","#e34a4f"]},"legend":{"orient":"bottom-right","offset":5,"title":null,"symbolType":"M-2,0H2","symbolDash":[4,2.5],"symbolStrokeWidth":1.2,"symbolSize":121,"symbolOffset":6,"fillColor":"rgba(255,255,255,0.85)","strokeColor":"#cccccc","padding":4,"cornerRadius":3,"rowPadding":2,"labelOffset":12}}}}
]},
{"layer":[
{"data":{"name":"pdp_lst"},"mark":{"type":"area","opacity":0.55},
"encoding":{"x":{"field":"value","type":"quantitative","scale":{"domain":[-16.5,338],"nice":false,"zero":false}},
"y":{"field":"lo","type":"quantitative","title":"PDP","scale":{"domain":[-123,32.3],"nice":false,"zero":false},"axis":{"orient":"right","values":[-120,-100,-80,-60,-40,-20,0,20],"grid":false,"labelOverlap":false,"titlePadding":4,"titleAngle":270,"titleBaseline":"top"}},
"y2":{"field":"hi"},
"fill":{"datum":"95% CI","type":"nominal","scale":{"range":["#cfcfcf"]},"legend":{"orient":"none","legendX":111,"legendY":-25,"title":null,"symbolType":"M-1,-0.32H1V0.32H-1Z","symbolSize":484,"symbolOpacity":0.7,"symbolStrokeWidth":0,"padding":0,"labelFontSize":9.5,"labelOffset":7}}}},
{"data":{"name":"pdp_lst"},"mark":{"type":"line","strokeWidth":1.8},
"encoding":{"x":{"field":"value","type":"quantitative","scale":{"domain":[-16.5,338],"nice":false,"zero":false}},
"y":{"field":"pdp","type":"quantitative","title":"PDP","scale":{"domain":[-123,32.3],"nice":false,"zero":false},"axis":{"orient":"right","values":[-120,-100,-80,-60,-40,-20,0,20],"grid":false,"labelOverlap":false,"titlePadding":4,"titleAngle":270,"titleBaseline":"top"}},
"stroke":{"datum":"PDP","type":"nominal","scale":{"range":["#595959"]},"legend":{"orient":"none","legendX":45,"legendY":-25,"title":null,"symbolType":"stroke","symbolSize":484,"symbolStrokeWidth":2,"padding":0,"labelFontSize":9.5,"labelOffset":7}}}}
]}
],
"resolve":{"scale":{"y":"independent","fill":"independent","stroke":"independent"}}},
{"width":216,"height":46,"data":{"name":"hist_lst"},"mark":{"type":"bar","fill":"#f8b077","stroke":"#ffffff","strokeWidth":0.6},
"encoding":{"x":{"field":"bin_start","type":"quantitative","title":"LST","scale":{"domain":[-16.5,338],"nice":false,"zero":false},"axis":{"values":[0,100,200,300],"grid":false,"titlePadding":4}},
"x2":{"field":"bin_end"},
"y":{"field":"count","type":"quantitative","title":"Count","scale":{"domain":[0,106],"nice":false},"axis":{"values":[0,100],"grid":false,"minExtent":23,"titlePadding":3}},
"y2":{"datum":0}}}
]},
{"spacing":6,"vconcat":[
{"width":216,"height":180,"title":{"text":"(b) LAI Impact","frame":"group","offset":-5},
"layer":[
{"layer":[
{"data":{"name":"scatter_lai"},"mark":{"type":"circle","size":24,"opacity":0.85},
"encoding":{
"x":{"field":"value","type":"quantitative","scale":{"domain":[-19.6,402],"nice":false,"zero":false},"axis":{"labels":false,"ticks":false,"title":null,"grid":true,"values":[0,100,200,300,400]}},
"y":{"field":"shap","type":"quantitative","title":"SHAP","scale":{"domain":[-99,101.5],"nice":false,"zero":false},"axis":{"values":[-75,-50,-25,0,25,50,75,100],"grid":true,"minExtent":23,"titlePadding":3}},
"fill":{"field":"shap","type":"quantitative","scale":{"domain":[-95,-57,-28.5,0,28.5,57,95],"range":["#6d0b2e","#bb3152","#e6a3b3","#fdf7f7","#f8c6a9","#ef8453","#f6a461"]},"legend":{"orient":"none","legendX":259,"legendY":0,"direction":"vertical","gradientLength":180,"gradientThickness":11,"title":null,"values":[-75,-50,-25,0,25,50,75],"labelOverlap":false,"gradientStrokeColor":"#666","gradientStrokeWidth":0.6,"padding":0,"labelOffset":6}}}},
{"data":{"values":[{"value":64.91,"label":"Median: 64.91"},{"value":35.93,"label":"Threshold: 35.93"}]},"mark":{"type":"rule","strokeDash":[4,2.5],"strokeWidth":1},
"encoding":{"x":{"field":"value","type":"quantitative","scale":{"domain":[-19.6,402],"nice":false,"zero":false}},
"stroke":{"field":"label","type":"nominal","scale":{"domain":["Median: 64.91","Threshold: 35.93"],"range":["#808080","#e34a4f"]},"legend":{"orient":"bottom-right","offset":5,"title":null,"symbolType":"M-2,0H2","symbolDash":[4,2.5],"symbolStrokeWidth":1.2,"symbolSize":121,"symbolOffset":6,"fillColor":"rgba(255,255,255,0.85)","strokeColor":"#cccccc","padding":4,"cornerRadius":3,"rowPadding":2,"labelOffset":12}}}}
]},
{"layer":[
{"data":{"name":"pdp_lai"},"mark":{"type":"area","opacity":0.55},
"encoding":{"x":{"field":"value","type":"quantitative","scale":{"domain":[-19.6,402],"nice":false,"zero":false}},
"y":{"field":"lo","type":"quantitative","title":"PDP","scale":{"domain":[-50.8,29.8],"nice":false,"zero":false},"axis":{"orient":"right","values":[-50,-40,-30,-20,-10,0,10,20,30],"grid":false,"labelOverlap":false,"titlePadding":4,"titleAngle":270,"titleBaseline":"top"}},
"y2":{"field":"hi"},
"fill":{"datum":"95% CI","type":"nominal","scale":{"range":["#cfcfcf"]},"legend":{"orient":"none","legendX":111,"legendY":-25,"title":null,"symbolType":"M-1,-0.32H1V0.32H-1Z","symbolSize":484,"symbolOpacity":0.7,"symbolStrokeWidth":0,"padding":0,"labelFontSize":9.5,"labelOffset":7}}}},
{"data":{"name":"pdp_lai"},"mark":{"type":"line","strokeWidth":1.8},
"encoding":{"x":{"field":"value","type":"quantitative","scale":{"domain":[-19.6,402],"nice":false,"zero":false}},
"y":{"field":"pdp","type":"quantitative","title":"PDP","scale":{"domain":[-50.8,29.8],"nice":false,"zero":false},"axis":{"orient":"right","values":[-50,-40,-30,-20,-10,0,10,20,30],"grid":false,"labelOverlap":false,"titlePadding":4,"titleAngle":270,"titleBaseline":"top"}},
"stroke":{"datum":"PDP","type":"nominal","scale":{"range":["#595959"]},"legend":{"orient":"none","legendX":45,"legendY":-25,"title":null,"symbolType":"stroke","symbolSize":484,"symbolStrokeWidth":2,"padding":0,"labelFontSize":9.5,"labelOffset":7}}}}
]}
],
"resolve":{"scale":{"y":"independent","fill":"independent","stroke":"independent"}}},
{"width":216,"height":46,"data":{"name":"hist_lai"},"mark":{"type":"bar","fill":"#f8b077","stroke":"#ffffff","strokeWidth":0.6},
"encoding":{"x":{"field":"bin_start","type":"quantitative","title":"LAI","scale":{"domain":[-19.6,402],"nice":false,"zero":false},"axis":{"values":[0,100,200,300,400],"grid":false,"titlePadding":4}},
"x2":{"field":"bin_end"},
"y":{"field":"count","type":"quantitative","title":"Count","scale":{"domain":[0,120],"nice":false},"axis":{"values":[0,100],"grid":false,"minExtent":23,"titlePadding":3}},
"y2":{"datum":0}}}
]},
{"spacing":6,"vconcat":[
{"width":216,"height":180,"title":{"text":"(c) EVI Impact","frame":"group","offset":-5},
"layer":[
{"layer":[
{"data":{"name":"scatter_evi"},"mark":{"type":"circle","size":24,"opacity":0.85},
"encoding":{
"x":{"field":"value","type":"quantitative","scale":{"domain":[-16,326],"nice":false,"zero":false},"axis":{"labels":false,"ticks":false,"title":null,"grid":true,"values":[0,50,100,150,200,250,300]}},
"y":{"field":"shap","type":"quantitative","title":"SHAP","scale":{"domain":[-65.7,145],"nice":false,"zero":false},"axis":{"values":[-50,-25,0,25,50,75,100,125],"grid":true,"minExtent":23,"titlePadding":3}},
"fill":{"field":"shap","type":"quantitative","scale":{"domain":[-135,-81,-40.5,0,40.5,81,135],"range":["#6d0b2e","#bb3152","#e6a3b3","#fdf7f7","#f8c6a9","#ef8453","#f6a461"]},"legend":{"orient":"none","legendX":259,"legendY":0,"direction":"vertical","gradientLength":180,"gradientThickness":11,"title":null,"values":[-100,-50,0,50,100],"labelOverlap":false,"gradientStrokeColor":"#666","gradientStrokeWidth":0.6,"padding":0,"labelOffset":6}}}},
{"data":{"values":[{"value":64.19,"label":"Median: 64.19"},{"value":15.03,"label":"Threshold: 15.03"}]},"mark":{"type":"rule","strokeDash":[4,2.5],"strokeWidth":1},
"encoding":{"x":{"field":"value","type":"quantitative","scale":{"domain":[-16,326],"nice":false,"zero":false}},
"stroke":{"field":"label","type":"nominal","scale":{"domain":["Median: 64.19","Threshold: 15.03"],"range":["#808080","#e34a4f"]},"legend":{"orient":"bottom-right","offset":5,"title":null,"symbolType":"M-2,0H2","symbolDash":[4,2.5],"symbolStrokeWidth":1.2,"symbolSize":121,"symbolOffset":6,"fillColor":"rgba(255,255,255,0.85)","strokeColor":"#cccccc","padding":4,"cornerRadius":3,"rowPadding":2,"labelOffset":12}}}}
]},
{"layer":[
{"data":{"name":"pdp_evi"},"mark":{"type":"area","opacity":0.55},
"encoding":{"x":{"field":"value","type":"quantitative","scale":{"domain":[-16,326],"nice":false,"zero":false}},
"y":{"field":"lo","type":"quantitative","title":"PDP","scale":{"domain":[-42,97.5],"nice":false,"zero":false},"axis":{"orient":"right","values":[-40,-20,0,20,40,60,80],"grid":false,"labelOverlap":false,"titlePadding":4,"titleAngle":270,"titleBaseline":"top"}},
"y2":{"field":"hi"},
"fill":{"datum":"95% CI","type":"nominal","scale":{"range":["#cfcfcf"]},"legend":{"orient":"none","legendX":111,"legendY":-25,"title":null,"symbolType":"M-1,-0.32H1V0.32H-1Z","symbolSize":484,"symbolOpacity":0.7,"symbolStrokeWidth":0,"padding":0,"labelFontSize":9.5,"labelOffset":7}}}},
{"data":{"name":"pdp_evi"},"mark":{"type":"line","strokeWidth":1.8},
"encoding":{"x":{"field":"value","type":"quantitative","scale":{"domain":[-16,326],"nice":false,"zero":false}},
"y":{"field":"pdp","type":"quantitative","title":"PDP","scale":{"domain":[-42,97.5],"nice":false,"zero":false},"axis":{"orient":"right","values":[-40,-20,0,20,40,60,80],"grid":false,"labelOverlap":false,"titlePadding":4,"titleAngle":270,"titleBaseline":"top"}},
"stroke":{"datum":"PDP","type":"nominal","scale":{"range":["#595959"]},"legend":{"orient":"none","legendX":45,"legendY":-25,"title":null,"symbolType":"stroke","symbolSize":484,"symbolStrokeWidth":2,"padding":0,"labelFontSize":9.5,"labelOffset":7}}}}
]}
],
"resolve":{"scale":{"y":"independent","fill":"independent","stroke":"independent"}}},
{"width":216,"height":46,"data":{"name":"hist_evi"},"mark":{"type":"bar","fill":"#f8b077","stroke":"#ffffff","strokeWidth":0.6},
"encoding":{"x":{"field":"bin_start","type":"quantitative","title":"EVI","scale":{"domain":[-16,326],"nice":false,"zero":false},"axis":{"values":[0,50,100,150,200,250,300],"grid":false,"titlePadding":4}},
"x2":{"field":"bin_end"},
"y":{"field":"count","type":"quantitative","title":"Count","scale":{"domain":[0,91],"nice":false},"axis":{"values":[0,50],"grid":false,"minExtent":23,"titlePadding":3}},
"y2":{"datum":0}}}
]}
],"spacing":32},
{"hconcat":[
{"spacing":6,"vconcat":[
{"width":216,"height":180,"title":{"text":"(d) SAVI Impact","frame":"group","offset":-5},
"layer":[
{"layer":[
{"data":{"name":"scatter_savi"},"mark":{"type":"circle","size":24,"opacity":0.85},
"encoding":{
"x":{"field":"value","type":"quantitative","scale":{"domain":[-16.2,335],"nice":false,"zero":false},"axis":{"labels":false,"ticks":false,"title":null,"grid":true,"values":[0,100,200,300]}},
"y":{"field":"shap","type":"quantitative","title":"SHAP","scale":{"domain":[-84.7,202.6],"nice":false,"zero":false},"axis":{"values":[-50,0,50,100,150,200],"grid":true,"minExtent":23,"titlePadding":3}},
"fill":{"field":"shap","type":"quantitative","scale":{"domain":[-188,-112.8,-56.4,0,56.4,112.8,188],"range":["#6d0b2e","#bb3152","#e6a3b3","#fdf7f7","#f8c6a9","#ef8453","#f6a461"]},"legend":{"orient":"none","legendX":259,"legendY":0,"direction":"vertical","gradientLength":180,"gradientThickness":11,"title":null,"values":[-150,-100,-50,0,50,100,150],"labelOverlap":false,"gradientStrokeColor":"#666","gradientStrokeWidth":0.6,"padding":0,"labelOffset":6}}}},
{"data":{"values":[{"value":68.76,"label":"Median: 68.76"},{"value":12.04,"label":"Threshold: 12.04"}]},"mark":{"type":"rule","strokeDash":[4,2.5],"strokeWidth":1},
"encoding":{"x":{"field":"value","type":"quantitative","scale":{"domain":[-16.2,335],"nice":false,"zero":false}},
"stroke":{"field":"label","type":"nominal","scale":{"domain":["Median: 68.76","Threshold: 12.04"],"range":["#808080","#e34a4f"]},"legend":{"orient":"bottom-right","offset":5,"title":null,"symbolType":"M-2,0H2","symbolDash":[4,2.5],"symbolStrokeWidth":1.2,"symbolSize":121,"symbolOffset":6,"fillColor":"rgba(255,255,255,0.85)","strokeColor":"#cccccc","padding":4,"cornerRadius":3,"rowPadding":2,"labelOffset":12}}}}
]},
{"layer":[
{"data":{"name":"pdp_savi"},"mark":{"type":"area","opacity":0.55},
"encoding":{"x":{"field":"value","type":"quantitative","scale":{"domain":[-16.2,335],"nice":false,"zero":false}},
"y":{"field":"lo","type":"quantitative","title":"PDP","scale":{"domain":[-25.9,41.7],"nice":false,"zero":false},"axis":{"orient":"right","values":[-20,-10,0,10,20,30,40],"grid":false,"labelOverlap":false,"titlePadding":4,"titleAngle":270,"titleBaseline":"top"}},
"y2":{"field":"hi"},
"fill":{"datum":"95% CI","type":"nominal","scale":{"range":["#cfcfcf"]},"legend":{"orient":"none","legendX":111,"legendY":-25,"title":null,"symbolType":"M-1,-0.32H1V0.32H-1Z","symbolSize":484,"symbolOpacity":0.7,"symbolStrokeWidth":0,"padding":0,"labelFontSize":9.5,"labelOffset":7}}}},
{"data":{"name":"pdp_savi"},"mark":{"type":"line","strokeWidth":1.8},
"encoding":{"x":{"field":"value","type":"quantitative","scale":{"domain":[-16.2,335],"nice":false,"zero":false}},
"y":{"field":"pdp","type":"quantitative","title":"PDP","scale":{"domain":[-25.9,41.7],"nice":false,"zero":false},"axis":{"orient":"right","values":[-20,-10,0,10,20,30,40],"grid":false,"labelOverlap":false,"titlePadding":4,"titleAngle":270,"titleBaseline":"top"}},
"stroke":{"datum":"PDP","type":"nominal","scale":{"range":["#595959"]},"legend":{"orient":"none","legendX":45,"legendY":-25,"title":null,"symbolType":"stroke","symbolSize":484,"symbolStrokeWidth":2,"padding":0,"labelFontSize":9.5,"labelOffset":7}}}}
]}
],
"resolve":{"scale":{"y":"independent","fill":"independent","stroke":"independent"}}},
{"width":216,"height":46,"data":{"name":"hist_savi"},"mark":{"type":"bar","fill":"#f8b077","stroke":"#ffffff","strokeWidth":0.6},
"encoding":{"x":{"field":"bin_start","type":"quantitative","title":"SAVI","scale":{"domain":[-16.2,335],"nice":false,"zero":false},"axis":{"values":[0,100,200,300],"grid":false,"titlePadding":4}},
"x2":{"field":"bin_end"},
"y":{"field":"count","type":"quantitative","title":"Count","scale":{"domain":[0,96],"nice":false},"axis":{"values":[0,50],"grid":false,"minExtent":23,"titlePadding":3}},
"y2":{"datum":0}}}
]},
{"spacing":6,"vconcat":[
{"width":216,"height":180,"title":{"text":"(e) NDVI Impact","frame":"group","offset":-5},
"layer":[
{"layer":[
{"data":{"name":"scatter_ndvi"},"mark":{"type":"circle","size":24,"opacity":0.85},
"encoding":{
"x":{"field":"value","type":"quantitative","scale":{"domain":[-16.6,342.5],"nice":false,"zero":false},"axis":{"labels":false,"ticks":false,"title":null,"grid":true,"values":[0,100,200,300]}},
"y":{"field":"shap","type":"quantitative","title":"SHAP","scale":{"domain":[-59,111.7],"nice":false,"zero":false},"axis":{"values":[-40,-20,0,20,40,60,80,100],"grid":true,"minExtent":23,"titlePadding":3}},
"fill":{"field":"shap","type":"quantitative","scale":{"domain":[-104.6,-62.8,-31.4,0,31.4,62.8,104.6],"range":["#6d0b2e","#bb3152","#e6a3b3","#fdf7f7","#f8c6a9","#ef8453","#f6a461"]},"legend":{"orient":"none","legendX":259,"legendY":0,"direction":"vertical","gradientLength":180,"gradientThickness":11,"title":null,"values":[-100,-75,-50,-25,0,25,50,75,100],"labelOverlap":false,"gradientStrokeColor":"#666","gradientStrokeWidth":0.6,"padding":0,"labelOffset":6}}}},
{"data":{"values":[{"value":65.23,"label":"Median: 65.23"},{"value":18.82,"label":"Threshold: 18.82"}]},"mark":{"type":"rule","strokeDash":[4,2.5],"strokeWidth":1},
"encoding":{"x":{"field":"value","type":"quantitative","scale":{"domain":[-16.6,342.5],"nice":false,"zero":false}},
"stroke":{"field":"label","type":"nominal","scale":{"domain":["Median: 65.23","Threshold: 18.82"],"range":["#808080","#e34a4f"]},"legend":{"orient":"bottom-right","offset":5,"title":null,"symbolType":"M-2,0H2","symbolDash":[4,2.5],"symbolStrokeWidth":1.2,"symbolSize":121,"symbolOffset":6,"fillColor":"rgba(255,255,255,0.85)","strokeColor":"#cccccc","padding":4,"cornerRadius":3,"rowPadding":2,"labelOffset":12}}}}
]},
{"layer":[
{"data":{"name":"pdp_ndvi"},"mark":{"type":"area","opacity":0.55},
"encoding":{"x":{"field":"value","type":"quantitative","scale":{"domain":[-16.6,342.5],"nice":false,"zero":false}},
"y":{"field":"lo","type":"quantitative","title":"PDP","scale":{"domain":[-42.2,63.7],"nice":false,"zero":false},"axis":{"orient":"right","values":[-40,-20,0,20,40,60],"grid":false,"labelOverlap":false,"titlePadding":4,"titleAngle":270,"titleBaseline":"top"}},
"y2":{"field":"hi"},
"fill":{"datum":"95% CI","type":"nominal","scale":{"range":["#cfcfcf"]},"legend":{"orient":"none","legendX":111,"legendY":-25,"title":null,"symbolType":"M-1,-0.32H1V0.32H-1Z","symbolSize":484,"symbolOpacity":0.7,"symbolStrokeWidth":0,"padding":0,"labelFontSize":9.5,"labelOffset":7}}}},
{"data":{"name":"pdp_ndvi"},"mark":{"type":"line","strokeWidth":1.8},
"encoding":{"x":{"field":"value","type":"quantitative","scale":{"domain":[-16.6,342.5],"nice":false,"zero":false}},
"y":{"field":"pdp","type":"quantitative","title":"PDP","scale":{"domain":[-42.2,63.7],"nice":false,"zero":false},"axis":{"orient":"right","values":[-40,-20,0,20,40,60],"grid":false,"labelOverlap":false,"titlePadding":4,"titleAngle":270,"titleBaseline":"top"}},
"stroke":{"datum":"PDP","type":"nominal","scale":{"range":["#595959"]},"legend":{"orient":"none","legendX":45,"legendY":-25,"title":null,"symbolType":"stroke","symbolSize":484,"symbolStrokeWidth":2,"padding":0,"labelFontSize":9.5,"labelOffset":7}}}}
]}
],
"resolve":{"scale":{"y":"independent","fill":"independent","stroke":"independent"}}},
{"width":216,"height":46,"data":{"name":"hist_ndvi"},"mark":{"type":"bar","fill":"#f8b077","stroke":"#ffffff","strokeWidth":0.6},
"encoding":{"x":{"field":"bin_start","type":"quantitative","title":"NDVI","scale":{"domain":[-16.6,342.5],"nice":false,"zero":false},"axis":{"values":[0,100,200,300],"grid":false,"titlePadding":4}},
"x2":{"field":"bin_end"},
"y":{"field":"count","type":"quantitative","title":"Count","scale":{"domain":[0,115],"nice":false},"axis":{"values":[0,100],"grid":false,"minExtent":23,"titlePadding":3}},
"y2":{"datum":0}}}
]},
{"spacing":6,"vconcat":[
{"width":216,"height":180,"title":{"text":"(f) NDSI Impact","frame":"group","offset":-5},
"layer":[
{"layer":[
{"data":{"name":"scatter_ndsi"},"mark":{"type":"circle","size":24,"opacity":0.85},
"encoding":{
"x":{"field":"value","type":"quantitative","scale":{"domain":[-20,413],"nice":false,"zero":false},"axis":{"labels":false,"ticks":false,"title":null,"grid":true,"values":[0,100,200,300,400]}},
"y":{"field":"shap","type":"quantitative","title":"SHAP","scale":{"domain":[-46.9,51.3],"nice":false,"zero":false},"axis":{"values":[-40,-20,0,20,40],"grid":true,"minExtent":23,"titlePadding":3}},
"fill":{"field":"shap","type":"quantitative","scale":{"domain":[-46.6,-28,-14,0,14,28,46.6],"range":["#6d0b2e","#bb3152","#e6a3b3","#fdf7f7","#f8c6a9","#ef8453","#f6a461"]},"legend":{"orient":"none","legendX":259,"legendY":0,"direction":"vertical","gradientLength":180,"gradientThickness":11,"title":null,"values":[-40,-20,0,20,40],"labelOverlap":false,"gradientStrokeColor":"#666","gradientStrokeWidth":0.6,"padding":0,"labelOffset":6}}}},
{"data":{"values":[{"value":68.11,"label":"Median: 68.11"},{"value":9.89,"label":"Threshold: 9.89"}]},"mark":{"type":"rule","strokeDash":[4,2.5],"strokeWidth":1},
"encoding":{"x":{"field":"value","type":"quantitative","scale":{"domain":[-20,413],"nice":false,"zero":false}},
"stroke":{"field":"label","type":"nominal","scale":{"domain":["Median: 68.11","Threshold: 9.89"],"range":["#808080","#e34a4f"]},"legend":{"orient":"bottom-right","offset":5,"title":null,"symbolType":"M-2,0H2","symbolDash":[4,2.5],"symbolStrokeWidth":1.2,"symbolSize":121,"symbolOffset":6,"fillColor":"rgba(255,255,255,0.85)","strokeColor":"#cccccc","padding":4,"cornerRadius":3,"rowPadding":2,"labelOffset":12}}}}
]},
{"layer":[
{"data":{"name":"pdp_ndsi"},"mark":{"type":"area","opacity":0.55},
"encoding":{"x":{"field":"value","type":"quantitative","scale":{"domain":[-20,413],"nice":false,"zero":false}},
"y":{"field":"lo","type":"quantitative","title":"PDP","scale":{"domain":[-14.3,41.2],"nice":false,"zero":false},"axis":{"orient":"right","values":[-10,0,10,20,30,40],"grid":false,"labelOverlap":false,"titlePadding":4,"titleAngle":270,"titleBaseline":"top"}},
"y2":{"field":"hi"},
"fill":{"datum":"95% CI","type":"nominal","scale":{"range":["#cfcfcf"]},"legend":{"orient":"none","legendX":111,"legendY":-25,"title":null,"symbolType":"M-1,-0.32H1V0.32H-1Z","symbolSize":484,"symbolOpacity":0.7,"symbolStrokeWidth":0,"padding":0,"labelFontSize":9.5,"labelOffset":7}}}},
{"data":{"name":"pdp_ndsi"},"mark":{"type":"line","strokeWidth":1.8},
"encoding":{"x":{"field":"value","type":"quantitative","scale":{"domain":[-20,413],"nice":false,"zero":false}},
"y":{"field":"pdp","type":"quantitative","title":"PDP","scale":{"domain":[-14.3,41.2],"nice":false,"zero":false},"axis":{"orient":"right","values":[-10,0,10,20,30,40],"grid":false,"labelOverlap":false,"titlePadding":4,"titleAngle":270,"titleBaseline":"top"}},
"stroke":{"datum":"PDP","type":"nominal","scale":{"range":["#595959"]},"legend":{"orient":"none","legendX":45,"legendY":-25,"title":null,"symbolType":"stroke","symbolSize":484,"symbolStrokeWidth":2,"padding":0,"labelFontSize":9.5,"labelOffset":7}}}}
]}
],
"resolve":{"scale":{"y":"independent","fill":"independent","stroke":"independent"}}},
{"width":216,"height":46,"data":{"name":"hist_ndsi"},"mark":{"type":"bar","fill":"#f8b077","stroke":"#ffffff","strokeWidth":0.6},
"encoding":{"x":{"field":"bin_start","type":"quantitative","title":"NDSI","scale":{"domain":[-20,413],"nice":false,"zero":false},"axis":{"values":[0,100,200,300,400],"grid":false,"titlePadding":4}},
"x2":{"field":"bin_end"},
"y":{"field":"count","type":"quantitative","title":"Count","scale":{"domain":[0,116],"nice":false},"axis":{"values":[0,100],"grid":false,"minExtent":23,"titlePadding":3}},
"y2":{"datum":0}}}
]}
],"spacing":32}
],
"config":{
"font":"Liberation Serif",
"view":{"stroke":"#000000","strokeWidth":1.5},
"axis":{"domain":false,"tickColor":"#000000","tickSize":3.5,"labelFont":"Liberation Serif","labelFontSize":10,"labelColor":"#000000","titleFont":"Liberation Serif","titleFontSize":10,"titleFontWeight":"bold","titleColor":"#000000","gridColor":"#dcdcdc","gridDash":[3,3],"gridWidth":0.6,"labelPadding":2,"labelOverlap":false},
"legend":{"labelFont":"Liberation Serif","labelFontSize":10,"labelColor":"#000000"},
"title":{"font":"Liberation Serif","fontSize":14,"fontWeight":"normal","color":"#000000"}
}
}
